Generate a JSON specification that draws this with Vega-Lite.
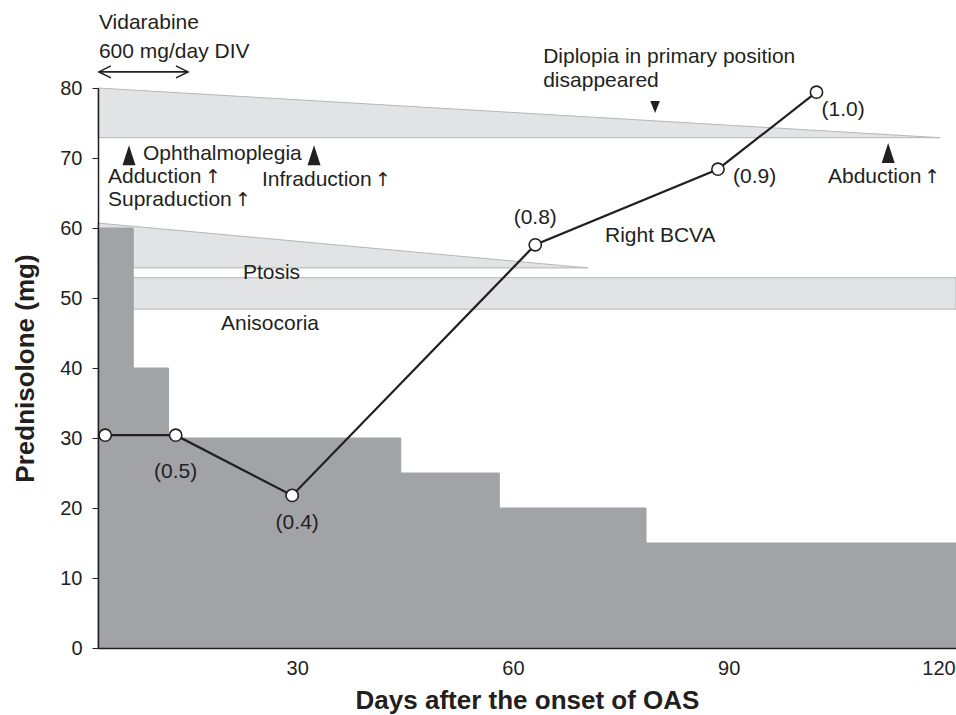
{
  "$schema": "https://vega.github.io/schema/vega-lite/v6.json",
  "width": 858,
  "height": 560,
  "autosize": {"type": "none"},
  "padding": {"left": 98, "top": 88, "right": 0, "bottom": 67},
  "background": "white",
  "config": {
    "view": {"stroke": null},
    "font": "Liberation Sans",
    "text": {"font": "Liberation Sans", "fontSize": 21, "color": "#231f20"}
  },
  "datasets": {
    "steps": [
      {"day": 2.3, "day2": 7.2, "mg": 60},
      {"day": 7.2, "day2": 12.1, "mg": 40},
      {"day": 12.1, "day2": 44.4, "mg": 30},
      {"day": 44.4, "day2": 58.1, "mg": 25},
      {"day": 58.1, "day2": 78.5, "mg": 20},
      {"day": 78.5, "day2": 121.6, "mg": 15}
    ],
    "bands": [
      {"band": "Ophthalmoplegia", "day": 2.3, "mg": 80, "mg2": 72.9},
      {"band": "Ophthalmoplegia", "day": 119.4, "mg": 72.9, "mg2": 72.9},
      {"band": "Ptosis", "day": 2.3, "mg": 60.7, "mg2": 54.3},
      {"band": "Ptosis", "day": 70.4, "mg": 54.3, "mg2": 54.3},
      {"band": "Anisocoria", "day": 2.3, "mg": 52.9, "mg2": 48.4},
      {"band": "Anisocoria", "day": 121.6, "mg": 52.9, "mg2": 48.4}
    ],
    "bcva": [
      {"day": 3.3, "mg": 30.4, "label": "(0.5)"},
      {"day": 13.1, "mg": 30.4, "label": "(0.5)"},
      {"day": 29.3, "mg": 21.8, "label": "(0.4)"},
      {"day": 63.1, "mg": 57.6, "label": "(0.8)"},
      {"day": 88.5, "mg": 68.4, "label": "(0.9)"},
      {"day": 102.2, "mg": 79.4, "label": "(1.0)"}
    ],
    "bcvaLabels": [
      {"day": 13.1, "mg": 25.1, "label": "(0.5)"},
      {"day": 30.0, "mg": 17.9, "label": "(0.4)"},
      {"day": 63.1, "mg": 61.4, "label": "(0.8)"},
      {"day": 93.6, "mg": 67.3, "label": "(0.9)"},
      {"day": 105.9, "mg": 76.9, "label": "(1.0)"}
    ],
    "notes": [
      {"day": 2.43, "mg": 89.3, "label": "Vidarabine"},
      {"day": 2.43, "mg": 85.1, "label": "600 mg/day DIV"},
      {"day": 64.2, "mg": 84.4, "label": "Diplopia in primary position"},
      {"day": 64.2, "mg": 81.0, "label": "disappeared"},
      {"day": 8.55, "mg": 70.6, "label": "Ophthalmoplegia"},
      {"day": 3.69, "mg": 67.3, "label": "Adduction"},
      {"day": 3.69, "mg": 64.0, "label": "Supraduction"},
      {"day": 25.1, "mg": 66.9, "label": "Infraduction"},
      {"day": 103.8, "mg": 67.3, "label": "Abduction"},
      {"day": 22.45, "mg": 53.6, "label": "Ptosis"},
      {"day": 19.4, "mg": 46.3, "label": "Anisocoria"},
      {"day": 72.8, "mg": 58.9, "label": "Right BCVA"}
    ],
    "upArrows": [
      {"day": 18.29, "mg": 67.3, "label": "↑"},
      {"day": 22.46, "mg": 64.0, "label": "↑"},
      {"day": 41.93, "mg": 66.9, "label": "↑"},
      {"day": 118.28, "mg": 67.3, "label": "↑"}
    ],
    "upMarkers": [
      {"day": 6.61, "mg": 70.4},
      {"day": 32.34, "mg": 70.4},
      {"day": 112.17, "mg": 70.7}
    ],
    "downMarkers": [
      {"day": 79.76, "mg": 77.3}
    ],
    "arrow": [
      {"day": 2.43, "day2": 14.81, "mg": 82.3}
    ],
    "arrowLeft": [{"day": 2.43, "mg": 82.3}],
    "arrowRight": [{"day": 14.81, "mg": 82.3}]
  },
  "encoding": {
    "x": {
      "field": "day",
      "type": "quantitative",
      "scale": {"domain": [2.3, 121.6], "nice": false, "zero": false},
      "axis": {
        "zindex": 1,
        "values": [30, 60, 90, 120],
        "ticks": false,
        "tickSize": 0,
        "grid": false,
        "domainColor": "#231f20",
        "domainWidth": 1.5,
        "labelFontSize": 20,
        "labelColor": "#231f20",
        "labelPadding": 10,
        "labelOffset": {"condition": {"test": "datum.value == 120", "value": -6}, "value": 0},
        "title": "Days after the onset of OAS",
        "titleFontSize": 26,
        "titleFontWeight": "bold",
        "titleColor": "#231f20",
        "titleY": 52,
        "titleBaseline": "middle"
      }
    },
    "y": {
      "field": "mg",
      "type": "quantitative",
      "scale": {"domain": [0, 80], "nice": false, "zero": true},
      "axis": {
        "zindex": 1,
        "values": [0, 10, 20, 30, 40, 50, 60, 70, 80],
        "tickSize": 6,
        "tickColor": "#231f20",
        "grid": false,
        "domainColor": "#231f20",
        "domainWidth": 1.5,
        "labelFontSize": 20,
        "labelColor": "#231f20",
        "labelPadding": 10,
        "title": "Prednisolone (mg)",
        "titleFontSize": 26,
        "titleFontWeight": "bold",
        "titleColor": "#231f20",
        "titleX": -73,
        "titleBaseline": "middle"
      }
    }
  },
  "layer": [
    {
      "data": {"name": "bands"},
      "mark": {"type": "area", "color": "#e2e3e5", "stroke": "#b5b6b8", "strokeWidth": 1, "opacity": 1},
      "encoding": {
        "y2": {"field": "mg2"},
        "detail": {"field": "band"}
      }
    },
    {
      "data": {"name": "steps"},
      "mark": {"type": "rect", "color": "#a2a3a7", "stroke": "#a2a3a7", "strokeWidth": 1},
      "encoding": {
        "x2": {"field": "day2"},
        "y2": {"datum": 0}
      }
    },
    {
      "data": {"name": "bcva"},
      "mark": {"type": "line", "color": "#231f20", "strokeWidth": 2.2},
      "encoding": {}
    },
    {
      "data": {"name": "bcva"},
      "mark": {"type": "point", "shape": "circle", "filled": true, "fill": "white", "stroke": "#231f20", "strokeWidth": 1.6, "size": 150, "opacity": 1},
      "encoding": {}
    },
    {
      "data": {"name": "bcvaLabels"},
      "mark": {"type": "text", "align": "center", "baseline": "middle", "fontSize": 21},
      "encoding": {"text": {"field": "label"}}
    },
    {
      "data": {"name": "notes"},
      "mark": {"type": "text", "align": "left", "baseline": "middle", "fontSize": 21},
      "encoding": {"text": {"field": "label"}}
    },
    {
      "data": {"name": "upArrows"},
      "mark": {"type": "text", "align": "center", "baseline": "middle", "font": "DejaVu Sans", "fontSize": 19, "fill": "#231f20"},
      "encoding": {"text": {"field": "label"}}
    },
    {
      "data": {"name": "upMarkers"},
      "mark": {"type": "point", "shape": "M-0.65,1L0,-1L0.65,1Z", "filled": true, "color": "#231f20", "size": 400, "opacity": 1},
      "encoding": {}
    },
    {
      "data": {"name": "downMarkers"},
      "mark": {"type": "point", "shape": "M-0.8,-1L0.8,-1L0,1Z", "filled": true, "color": "#231f20", "size": 144, "opacity": 1},
      "encoding": {}
    },
    {
      "data": {"name": "arrow"},
      "mark": {"type": "rule", "color": "#231f20", "strokeWidth": 1.6},
      "encoding": {"x2": {"field": "day2"}}
    },
    {
      "data": {"name": "arrowLeft"},
      "mark": {"type": "point", "shape": "M2,-1L0,0L2,1", "filled": false, "stroke": "#231f20", "strokeWidth": 1.6, "size": 144, "opacity": 1},
      "encoding": {}
    },
    {
      "data": {"name": "arrowRight"},
      "mark": {"type": "point", "shape": "M-2,-1L0,0L-2,1", "filled": false, "stroke": "#231f20", "strokeWidth": 1.6, "size": 144, "opacity": 1},
      "encoding": {}
    }
  ]
}
